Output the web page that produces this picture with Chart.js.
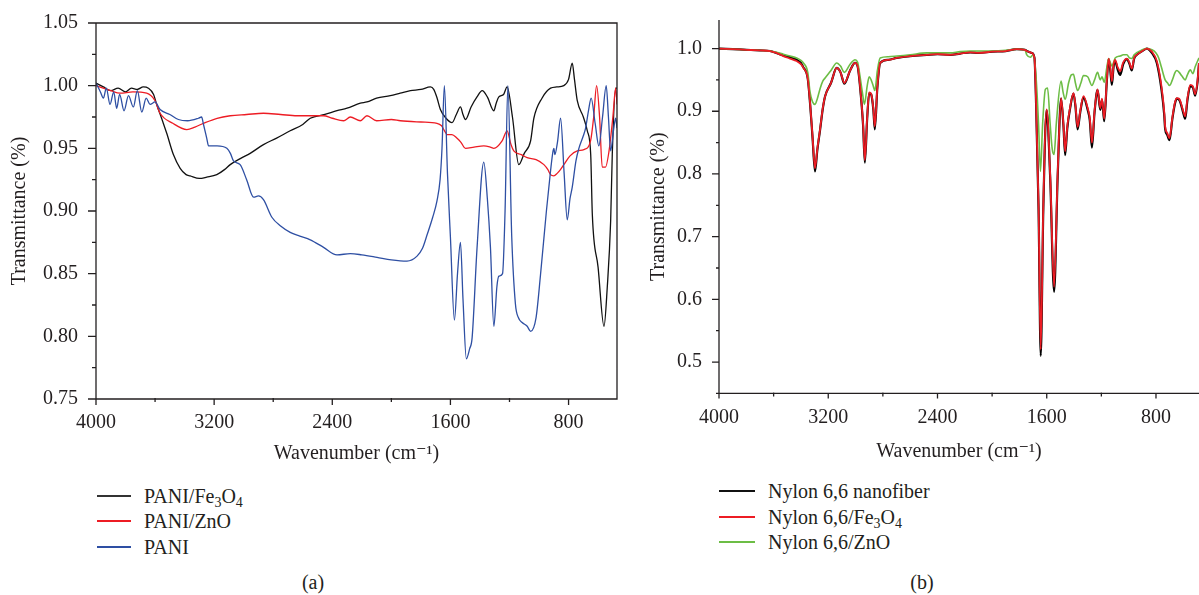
<!DOCTYPE html>
<html>
<head>
<meta charset="utf-8">
<title>FTIR spectra</title>
<script src="https://cdn.jsdelivr.net/npm/chart.js@4.4.1/dist/chart.umd.min.js"></script>
<style>
  body { margin: 0; background: #fff; width: 1199px; height: 595px; overflow: hidden; position: relative;
         font-family: "Liberation Serif", "DejaVu Serif", serif; color: #231f20; }
  canvas { position: absolute; top: 0; }
  #chartA { left: 0; }
  #chartB { left: 640px; }
  .row { position: absolute; height: 24px; line-height: 24px; font-size: 20px; white-space: nowrap; }
  .row .line { position: absolute; left: 0; top: 11px; height: 2px; }
  .row .txt { position: absolute; top: 0; }
  .row sub { font-size: 14px; vertical-align: -4px; line-height: 0; }
  .caption { position: absolute; font-size: 20px; line-height: 24px; transform: translateX(-50%); }
</style>
</head>
<body>
<canvas id="chartA" width="621" height="475"></canvas>
<canvas id="chartB" width="559" height="475"></canvas>

<div class="row" style="left:97px; top:484px;"><div class="line" style="width:34px; background:#333;"></div><span class="txt" style="left:47px;">PANI/Fe<sub>3</sub>O<sub>4</sub></span></div>
<div class="row" style="left:97px; top:509px;"><div class="line" style="width:34px; background:#ed1c24;"></div><span class="txt" style="left:47px;">PANI/ZnO</span></div>
<div class="row" style="left:97px; top:535px;"><div class="line" style="width:34px; background:#2e4fa3;"></div><span class="txt" style="left:47px;">PANI</span></div>
<div class="caption" style="left:313px; top:570px;">(a)</div>

<div class="row" style="left:719px; top:479px;"><div class="line" style="width:36px; background:#111;"></div><span class="txt" style="left:49px;">Nylon 6,6 nanofiber</span></div>
<div class="row" style="left:719px; top:505px;"><div class="line" style="width:36px; background:#ed1c24;"></div><span class="txt" style="left:49px;">Nylon 6,6/Fe<sub>3</sub>O<sub>4</sub></span></div>
<div class="row" style="left:719px; top:530px;"><div class="line" style="width:36px; background:#6cbd45;"></div><span class="txt" style="left:49px;">Nylon 6,6/ZnO</span></div>
<div class="caption" style="left:922px; top:570px;">(b)</div>

<script>
// ---- panel (a): PANI samples ----
const paniFeWn = [4000, 3950, 3900, 3850, 3800, 3760, 3720, 3680, 3645, 3610, 3589, 3550, 3521, 3476, 3430, 3390, 3363, 3300, 3250, 3182, 3130, 3091, 3020, 2956, 2866, 2780, 2685, 2600, 2549, 2450, 2368, 2300, 2210, 2165, 2100, 2007, 1940, 1871, 1800, 1735, 1713, 1690, 1668, 1630, 1589, 1560, 1532, 1515, 1498, 1460, 1420, 1385, 1350, 1306, 1290, 1272, 1240, 1216, 1180, 1137, 1100, 1057, 1035, 980, 922, 880, 832, 800, 775, 760, 741, 700, 673, 650, 639, 600, 560, 538, 515, 504, 481, 472];
const paniFeT = [1.002, 0.999, 0.996, 0.998, 0.995, 0.998, 0.997, 0.999, 0.998, 0.993, 0.985, 0.972, 0.962, 0.945, 0.934, 0.929, 0.928, 0.926, 0.927, 0.929, 0.933, 0.937, 0.942, 0.946, 0.953, 0.958, 0.964, 0.969, 0.974, 0.977, 0.980, 0.982, 0.986, 0.987, 0.990, 0.992, 0.994, 0.996, 0.997, 0.999, 0.997, 0.990, 0.981, 0.974, 0.9705, 0.977, 0.983, 0.977, 0.973, 0.983, 0.991, 0.996, 0.991, 0.980, 0.986, 0.991, 0.993, 0.999, 0.975, 0.937, 0.946, 0.956, 0.974, 0.990, 0.998, 0.999, 1.000, 1.005, 1.018, 1.005, 0.988, 0.975, 0.964, 0.945, 0.897, 0.855, 0.808, 0.839, 0.892, 0.945, 0.998, 0.998];

const paniZnWn = [4000, 3900, 3837, 3750, 3657, 3600, 3566, 3480, 3385, 3330, 3272, 3180, 3091, 2980, 2866, 2750, 2639, 2540, 2459, 2400, 2323, 2278, 2210, 2165, 2100, 2000, 1939, 1800, 1691, 1660, 1640, 1622, 1590, 1555, 1530, 1498, 1440, 1374, 1330, 1306, 1250, 1216, 1190, 1171, 1120, 1080, 1020, 967, 940, 922, 900, 877, 855, 832, 790, 741, 696, 651, 630, 610, 590, 572, 550, 527, 500, 481, 472];
const paniZnT = [1.0, 0.996, 0.994, 0.995, 0.994, 0.988, 0.978, 0.970, 0.965, 0.967, 0.970, 0.974, 0.976, 0.977, 0.978, 0.977, 0.976, 0.976, 0.976, 0.974, 0.972, 0.975, 0.972, 0.976, 0.972, 0.973, 0.972, 0.971, 0.970, 0.968, 0.964, 0.961, 0.961, 0.958, 0.955, 0.950, 0.951, 0.952, 0.951, 0.950, 0.956, 0.964, 0.953, 0.948, 0.945, 0.9425, 0.941, 0.937, 0.933, 0.929, 0.928, 0.930, 0.933, 0.937, 0.944, 0.948, 0.949, 0.956, 0.975, 1.0, 0.975, 0.935, 0.935, 0.947, 0.975, 0.998, 0.985];

const paniWn = [4000, 3970, 3950, 3930, 3905, 3880, 3860, 3840, 3810, 3780, 3747, 3720, 3690, 3660, 3634, 3600, 3566, 3500, 3442, 3380, 3306, 3285, 3272, 3250, 3238, 3180, 3114, 3090, 3069, 3024, 2980, 2933, 2900, 2866, 2809, 2750, 2685, 2620, 2549, 2459, 2368, 2278, 2200, 2097, 2000, 1894, 1826, 1790, 1758, 1720, 1691, 1670, 1657, 1641, 1620, 1600, 1573, 1552, 1532, 1515, 1492, 1470, 1453, 1420, 1374, 1350, 1329, 1306, 1285, 1272, 1247, 1230, 1211, 1185, 1160, 1140, 1114, 1080, 1057, 1020, 990, 950, 922, 905, 899, 893, 875, 854, 830, 809, 790, 775, 750, 730, 700, 685, 665, 647, 620, 595, 570, 545, 530, 515, 495, 481, 472];
const paniT = [1.002, 0.995, 0.99, 0.998, 0.985, 0.995, 0.982, 0.993, 0.98, 0.992, 0.983, 0.996, 0.979, 0.99, 0.985, 0.987, 0.981, 0.977, 0.973, 0.972, 0.974, 0.975, 0.969, 0.958, 0.952, 0.952, 0.950, 0.946, 0.940, 0.937, 0.925, 0.911, 0.912, 0.909, 0.895, 0.888, 0.883, 0.880, 0.877, 0.871, 0.865, 0.866, 0.865, 0.863, 0.861, 0.860, 0.864, 0.870, 0.881, 0.895, 0.908, 0.925, 0.950, 1.0, 0.93, 0.879, 0.813, 0.85, 0.875, 0.83, 0.782, 0.79, 0.799, 0.87, 0.939, 0.91, 0.871, 0.808, 0.84, 0.848, 0.850, 0.9, 1.0, 0.88, 0.826, 0.815, 0.811, 0.808, 0.804, 0.815, 0.849, 0.9, 0.932, 0.948, 0.950, 0.945, 0.955, 0.974, 0.93, 0.893, 0.91, 0.919, 0.94, 0.950, 0.96, 0.966, 0.98, 0.990, 0.97, 0.952, 0.975, 1.0, 0.975, 0.948, 0.965, 0.974, 0.966];

// ---- panel (b): Nylon 6,6 samples ----
const nylonWn = [4000, 3900, 3800, 3700, 3626, 3580, 3529, 3480, 3431, 3400, 3382, 3350, 3333, 3315, 3297, 3280, 3260, 3240, 3223, 3180, 3138, 3110, 3082, 3040, 3004, 2985, 2967, 2945, 2932, 2915, 2900, 2886, 2870, 2859, 2840, 2820, 2760, 2698, 2600, 2478, 2400, 2308, 2234, 2161, 2100, 2000, 1900, 1819, 1760, 1746, 1709, 1690, 1678, 1660, 1644, 1625, 1601, 1575, 1546, 1520, 1495, 1478, 1465, 1450, 1430, 1404, 1390, 1374, 1355, 1331, 1300, 1285, 1269, 1250, 1228, 1208, 1195, 1179, 1160, 1147, 1135, 1123, 1110, 1099, 1080, 1062, 1040, 1013, 995, 977, 960, 940, 900, 867, 830, 794, 760, 740, 733, 717, 701, 680, 660, 647, 630, 620, 600, 586, 570, 549, 530, 513, 495, 485];
const nylonT = [1.0, 0.999, 0.998, 0.997, 0.996, 0.993, 0.989, 0.986, 0.982, 0.977, 0.970, 0.952, 0.912, 0.858, 0.804, 0.838, 0.870, 0.904, 0.924, 0.945, 0.969, 0.962, 0.944, 0.965, 0.977, 0.972, 0.939, 0.878, 0.818, 0.888, 0.929, 0.927, 0.903, 0.871, 0.939, 0.977, 0.982, 0.985, 0.988, 0.990, 0.991, 0.990, 0.992, 0.994, 0.993, 0.995, 0.996, 0.999, 0.998, 0.996, 0.993, 0.985, 0.912, 0.745, 0.510, 0.745, 0.902, 0.795, 0.612, 0.795, 0.920, 0.878, 0.830, 0.872, 0.903, 0.928, 0.908, 0.871, 0.898, 0.922, 0.902, 0.886, 0.842, 0.898, 0.934, 0.902, 0.918, 0.884, 0.948, 0.983, 0.966, 0.942, 0.972, 0.980, 0.966, 0.958, 0.975, 0.983, 0.976, 0.965, 0.984, 0.990, 0.996, 1.0, 0.993, 0.977, 0.935, 0.895, 0.872, 0.862, 0.854, 0.888, 0.913, 0.920, 0.918, 0.913, 0.897, 0.888, 0.917, 0.940, 0.938, 0.925, 0.948, 0.976];

const nylonFeWn = nylonWn;
const nylonFeT = [1.0, 0.999, 0.998, 0.997, 0.996, 0.993, 0.988, 0.984, 0.980, 0.975, 0.969, 0.952, 0.913, 0.860, 0.809, 0.840, 0.871, 0.905, 0.924, 0.945, 0.969, 0.962, 0.945, 0.965, 0.977, 0.972, 0.940, 0.880, 0.822, 0.890, 0.930, 0.928, 0.905, 0.876, 0.940, 0.977, 0.982, 0.985, 0.988, 0.990, 0.991, 0.990, 0.992, 0.994, 0.993, 0.995, 0.996, 0.999, 0.998, 0.996, 0.993, 0.985, 0.913, 0.750, 0.520, 0.750, 0.903, 0.800, 0.620, 0.800, 0.921, 0.880, 0.836, 0.875, 0.905, 0.929, 0.910, 0.875, 0.900, 0.924, 0.905, 0.890, 0.850, 0.900, 0.935, 0.905, 0.920, 0.888, 0.950, 0.984, 0.970, 0.948, 0.975, 0.982, 0.970, 0.964, 0.978, 0.984, 0.978, 0.968, 0.985, 0.990, 0.996, 1.0, 0.995, 0.980, 0.940, 0.900, 0.876, 0.865, 0.857, 0.890, 0.915, 0.921, 0.920, 0.915, 0.900, 0.892, 0.920, 0.942, 0.940, 0.927, 0.950, 0.977];

const nylonZnWn = [4000, 3800, 3626, 3580, 3529, 3480, 3431, 3400, 3382, 3350, 3333, 3315, 3297, 3280, 3260, 3240, 3223, 3180, 3138, 3110, 3082, 3040, 3004, 2985, 2967, 2950, 2935, 2915, 2900, 2886, 2870, 2859, 2840, 2820, 2760, 2698, 2600, 2478, 2308, 2234, 2161, 2000, 1900, 1819, 1760, 1746, 1720, 1700, 1680, 1660, 1646, 1630, 1610, 1594, 1575, 1560, 1546, 1530, 1495, 1480, 1465, 1440, 1420, 1404, 1390, 1374, 1350, 1331, 1300, 1269, 1250, 1228, 1208, 1195, 1179, 1160, 1147, 1135, 1123, 1110, 1099, 1062, 1040, 1013, 995, 977, 960, 900, 867, 830, 800, 780, 760, 733, 715, 701, 680, 660, 647, 630, 610, 586, 570, 549, 530, 513, 485];
const nylonZnT = [1.0, 0.998, 0.996, 0.994, 0.991, 0.988, 0.985, 0.981, 0.977, 0.962, 0.930, 0.915, 0.911, 0.920, 0.936, 0.948, 0.953, 0.965, 0.977, 0.972, 0.962, 0.975, 0.982, 0.978, 0.955, 0.930, 0.911, 0.940, 0.955, 0.950, 0.940, 0.933, 0.965, 0.985, 0.987, 0.988, 0.990, 0.993, 0.993, 0.995, 0.996, 0.996, 0.997, 0.999, 0.998, 0.990, 0.986, 0.990, 0.960, 0.880, 0.804, 0.880, 0.935, 0.937, 0.880, 0.840, 0.831, 0.880, 0.948, 0.930, 0.919, 0.945, 0.958, 0.959, 0.945, 0.933, 0.945, 0.957, 0.955, 0.941, 0.950, 0.962, 0.950, 0.955, 0.946, 0.970, 0.984, 0.978, 0.972, 0.978, 0.985, 0.988, 0.990, 0.990, 0.985, 0.984, 0.990, 0.998, 1.0, 0.998, 0.993, 0.985, 0.970, 0.950, 0.945, 0.941, 0.950, 0.962, 0.965, 0.962, 0.956, 0.950, 0.958, 0.966, 0.960, 0.971, 0.985];

// ---- ticks ----
const xMajorTicks = [4000, 3200, 2400, 1600, 800];
const xMinorTicks = [3600, 2800, 2000, 1200];
const aYMajorTicks = [0.75, 0.80, 0.85, 0.90, 0.95, 1.00, 1.05];
const aYMinorTicks = [0.775, 0.825, 0.875, 0.925, 0.975, 1.025];
const bYMajorTicks = [0.5, 0.6, 0.7, 0.8, 0.9, 1.0];
const bYMinorTicks = [0.45, 0.55, 0.65, 0.75, 0.85, 0.95];

Chart.defaults.font.family = '"Liberation Serif", "DejaVu Serif", serif';
Chart.defaults.font.size = 20;
Chart.defaults.color = '#231f20';

function pts(wn, t) {
  return wn.map((w, i) => ({ x: w, y: t[i] }));
}

// axis lines + tick marks drawn from the scales
const axesPlugin = {
  id: 'axes',
  afterDraw(chart, args, o) {
    const { ctx, chartArea: a, scales: { x, y } } = chart;
    ctx.save();
    ctx.strokeStyle = '#231f20';
    ctx.lineWidth = 1.3;
    ctx.beginPath();
    if (o.box) {
      ctx.rect(a.left, a.top, a.right - a.left, a.bottom - a.top);
    } else {
      ctx.moveTo(a.left, a.top);
      ctx.lineTo(a.left, a.bottom);
      ctx.lineTo(a.right, a.bottom);
    }
    o.xMajor.forEach(v => { const p = x.getPixelForValue(v); ctx.moveTo(p, a.bottom); ctx.lineTo(p, a.bottom + o.xMajorLen); });
    o.xMinor.forEach(v => { const p = x.getPixelForValue(v); ctx.moveTo(p, a.bottom - 1); ctx.lineTo(p, a.bottom + o.xMinorLen); });
    o.yMajor.forEach(v => { const p = y.getPixelForValue(v); ctx.moveTo(a.left, p); ctx.lineTo(a.left - o.yMajorLen, p); });
    o.yMinor.forEach(v => { const p = y.getPixelForValue(v); ctx.moveTo(a.left, p); ctx.lineTo(a.left - o.yMinorLen, p); });
    ctx.stroke();
    ctx.restore();
  }
};

function makeChart(id, datasets, cfg) {
  return new Chart(document.getElementById(id), {
    type: 'line',
    data: { datasets: datasets },
    plugins: [axesPlugin],
    options: {
      responsive: false,
      animation: false,
      devicePixelRatio: 1,
      events: [],
      layout: { padding: { left: 0, top: cfg.top, right: cfg.right, bottom: 0 } },
      elements: { point: { radius: 0 }, line: { cubicInterpolationMode: 'monotone' } },
      plugins: {
        legend: { display: false },
        tooltip: { enabled: false },
        axes: cfg.axes
      },
      scales: {
        x: {
          type: 'linear',
          reverse: true,
          min: cfg.xMin,
          max: 4000,
          grid: { display: false, drawTicks: false },
          border: { display: false },
          afterBuildTicks: s => { s.ticks = xMajorTicks.map(v => ({ value: v })); },
          afterFit: s => { s.height = cfg.xHeight; s.paddingLeft = 0; s.paddingRight = 0; },
          ticks: { autoSkip: false, maxRotation: 0, padding: 12, callback: v => String(v) },
          title: { display: true, text: 'Wavenumber (cm\u207B\u00B9)', padding: { top: 0, bottom: cfg.xTitlePad } }
        },
        y: {
          type: 'linear',
          min: cfg.yMin,
          max: cfg.yMax,
          grid: { display: false, drawTicks: false },
          border: { display: false },
          afterBuildTicks: s => { s.ticks = cfg.yMajor.map(v => ({ value: v })); },
          afterFit: s => { s.width = cfg.yWidth; s.paddingTop = 0; s.paddingBottom = 0; },
          ticks: { autoSkip: false, padding: cfg.yLabelPad, callback: v => v.toFixed(cfg.decimals) },
          title: { display: true, text: 'Transmittance (%)', padding: { top: cfg.yTitlePad, bottom: 0 } }
        }
      }
    }
  });
}

makeChart('chartA', [
  { label: 'PANI', data: pts(paniWn, paniT), borderColor: '#2e4fa3', borderWidth: 1.3, order: 0 },
  { label: 'PANI/ZnO', data: pts(paniZnWn, paniZnT), borderColor: '#ed1c24', borderWidth: 1.3, order: 1 },
  { label: 'PANI/Fe3O4', data: pts(paniFeWn, paniFeT), borderColor: '#111111', borderWidth: 1.3, order: 2 }
], {
  top: 23, right: 4, xMin: 472, xHeight: 76, xTitlePad: 9,
  yMin: 0.75, yMax: 1.05, yWidth: 96, yLabelPad: 18, yTitlePad: 8, decimals: 2,
  yMajor: aYMajorTicks,
  axes: { box: true, xMajor: xMajorTicks, xMinor: xMinorTicks, yMajor: aYMajorTicks, yMinor: aYMinorTicks,
          xMajorLen: 6, xMinorLen: 3, yMajorLen: 8, yMinorLen: 4 }
});

makeChart('chartB', [
  { label: 'Nylon 6,6/Fe3O4', data: pts(nylonFeWn, nylonFeT), borderColor: '#ed1c24', borderWidth: 1.8, order: 0 },
  { label: 'Nylon 6,6/ZnO', data: pts(nylonZnWn, nylonZnT), borderColor: '#6cbd45', borderWidth: 1.6, order: 1 },
  { label: 'Nylon 6,6 nanofiber', data: pts(nylonWn, nylonT), borderColor: '#000000', borderWidth: 2.2, order: 2 }
], {
  top: 20, right: 0, xMin: 485, xHeight: 81.6, xTitlePad: 11,
  yMin: 0.45, yMax: 1.0455, yWidth: 79, yLabelPad: 17, yTitlePad: 7, decimals: 1,
  yMajor: bYMajorTicks,
  axes: { box: false, xMajor: xMajorTicks, xMinor: xMinorTicks, yMajor: bYMajorTicks, yMinor: bYMinorTicks,
          xMajorLen: 5, xMinorLen: 3, yMajorLen: 7, yMinorLen: 3 }
});
</script>
</body>
</html>
